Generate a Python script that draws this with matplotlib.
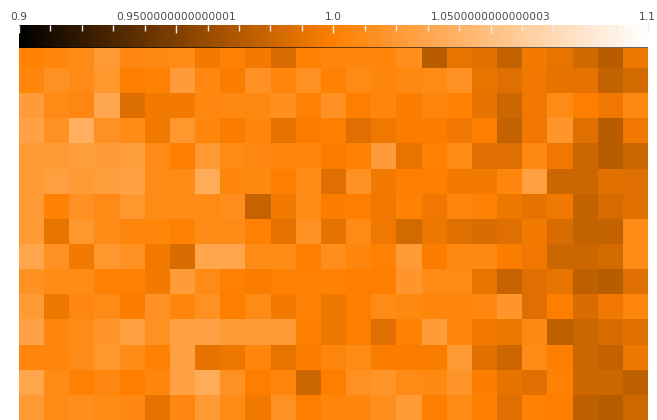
import numpy as np
import matplotlib
matplotlib.use("Agg")
import matplotlib.pyplot as plt
from matplotlib.colors import LinearSegmentedColormap
from matplotlib.ticker import MultipleLocator

# cell values, top row first (25 columns each)
r0 = [1.002, 1.005, 1.008, 1.020, 1.006, 1.007, 1.008, 0.996, 1.001, 0.996, 0.985, 1.001, 1.005, 1.005, 1.004, 1.011, 0.972, 0.991, 0.988, 0.977, 0.996, 0.991, 0.982, 0.972, 0.993]
r1 = [1.004, 1.014, 1.008, 1.018, 1.000, 1.001, 1.022, 1.007, 0.998, 1.014, 1.004, 1.014, 1.001, 1.009, 1.005, 1.007, 1.008, 1.014, 0.991, 0.987, 0.994, 0.990, 0.990, 0.977, 0.983]
r2 = [1.022, 1.008, 1.006, 1.031, 0.986, 0.996, 0.996, 1.006, 1.007, 1.007, 1.012, 1.001, 1.014, 1.000, 1.005, 0.998, 1.005, 1.001, 0.990, 0.980, 0.994, 1.009, 1.000, 0.994, 1.007]
r3 = [1.027, 1.014, 1.037, 1.014, 1.008, 0.996, 1.018, 1.005, 0.998, 1.005, 0.990, 0.998, 1.000, 0.987, 0.994, 0.998, 0.998, 0.994, 1.000, 0.977, 0.994, 1.017, 0.988, 0.972, 0.994]
r4 = [1.021, 1.021, 1.024, 1.022, 1.024, 1.008, 1.000, 1.020, 1.008, 1.006, 1.005, 1.004, 0.998, 1.001, 1.022, 0.991, 1.001, 1.009, 0.987, 0.987, 1.007, 0.994, 0.980, 0.972, 0.980]
r5 = [1.021, 1.025, 1.021, 1.024, 1.027, 1.009, 1.009, 1.035, 1.005, 1.007, 1.000, 1.008, 0.987, 1.014, 0.996, 1.000, 1.000, 0.996, 0.996, 1.005, 1.025, 0.980, 0.980, 0.988, 0.987]
r6 = [1.021, 1.001, 1.014, 1.008, 1.018, 1.009, 1.009, 1.008, 1.011, 0.978, 0.996, 1.009, 0.998, 1.000, 0.994, 1.001, 0.994, 1.005, 1.001, 0.993, 0.990, 0.994, 0.977, 0.984, 0.988]
r7 = [1.021, 0.991, 1.018, 1.008, 1.005, 1.004, 1.001, 1.008, 1.009, 1.001, 0.990, 1.014, 0.990, 1.009, 0.994, 0.983, 0.993, 0.988, 0.985, 0.987, 0.996, 0.985, 0.977, 0.977, 1.009]
r8 = [1.030, 1.014, 0.996, 1.018, 1.014, 0.996, 0.985, 1.030, 1.030, 1.009, 1.009, 1.000, 1.011, 1.005, 1.001, 1.021, 0.998, 1.007, 1.007, 0.998, 0.994, 0.980, 0.980, 0.983, 1.009]
r9 = [1.014, 1.009, 1.008, 1.001, 1.001, 0.996, 1.022, 1.008, 1.001, 0.998, 1.001, 1.001, 1.001, 1.000, 1.000, 1.017, 1.008, 1.009, 0.991, 0.978, 0.987, 0.991, 0.975, 0.972, 0.987]
r10 = [1.021, 0.993, 1.006, 1.009, 0.998, 1.014, 1.005, 1.014, 1.000, 1.009, 0.996, 1.001, 0.993, 1.000, 1.009, 1.007, 1.004, 1.005, 1.006, 1.017, 0.987, 1.000, 0.985, 0.994, 1.005]
r11 = [1.027, 1.005, 1.009, 1.017, 1.026, 1.014, 1.026, 1.026, 1.021, 1.021, 1.020, 1.000, 0.993, 1.000, 0.987, 1.001, 1.022, 1.004, 0.996, 0.993, 1.007, 0.975, 0.980, 0.985, 0.988]
r12 = [1.005, 1.004, 1.009, 1.018, 1.009, 1.001, 1.026, 0.990, 0.993, 1.005, 0.991, 0.998, 1.005, 1.009, 0.998, 0.998, 0.998, 1.020, 0.988, 0.980, 1.009, 1.000, 0.980, 0.977, 0.993]
r13 = [1.030, 1.008, 1.001, 1.006, 1.000, 1.005, 1.026, 1.035, 1.014, 1.000, 1.004, 0.980, 1.000, 1.014, 1.016, 1.008, 1.007, 1.016, 0.998, 0.990, 0.987, 1.001, 0.980, 0.980, 0.975]
r14 = [1.021, 1.008, 1.011, 1.009, 1.006, 0.990, 1.006, 1.020, 1.008, 0.996, 1.014, 1.000, 1.004, 1.005, 1.011, 1.021, 1.000, 1.009, 1.000, 0.987, 1.001, 1.000, 0.975, 0.972, 0.982]

tick_values = [0.9, 0.95, 1.0, 1.05, 1.1]
tick_labels = ['0.9', '0.9500000000000001', '1.0', '1.0500000000000003', '1.1']

grid = np.array([r0, r1, r2, r3, r4, r5, r6, r7, r8, r9, r10, r11, r12, r13, r14])

cmap = LinearSegmentedColormap.from_list('black_orange_white', ['#000000', '#ff8000', '#ffffff'])

fig = plt.figure(figsize=(6.57, 4.2), dpi=100)

# heatmap (top row partly hidden under the colour bar)
ax = fig.add_axes([19 / 657, 0, 628.7 / 657, 377 / 420])
im = ax.imshow(grid, cmap=cmap, vmin=0.9, vmax=1.1, aspect='auto', interpolation='nearest')
ax.set_axis_off()

# colour bar on top
cax = fig.add_axes([19 / 657, (420 - 47.5) / 420, 628.7 / 657, 22.5 / 420])
cb = fig.colorbar(im, cax=cax, orientation='horizontal', ticklocation='top')
cb.outline.set_visible(False)
cb.set_ticks(tick_values, labels=tick_labels)
cax.xaxis.set_minor_locator(MultipleLocator(0.01))
cax.tick_params(axis='x', which='major', direction='in', length=6, width=1,
                color='#eeeeee', labelsize=7.7, labelcolor='#4a4a4a', pad=2.5)
cax.tick_params(axis='x', which='minor', direction='in', length=4.5, width=1, color='#eeeeee')
cax.axhline(0, color='#000000', alpha=0.65, lw=1.3)

fig.savefig('out.png', dpi=100)
